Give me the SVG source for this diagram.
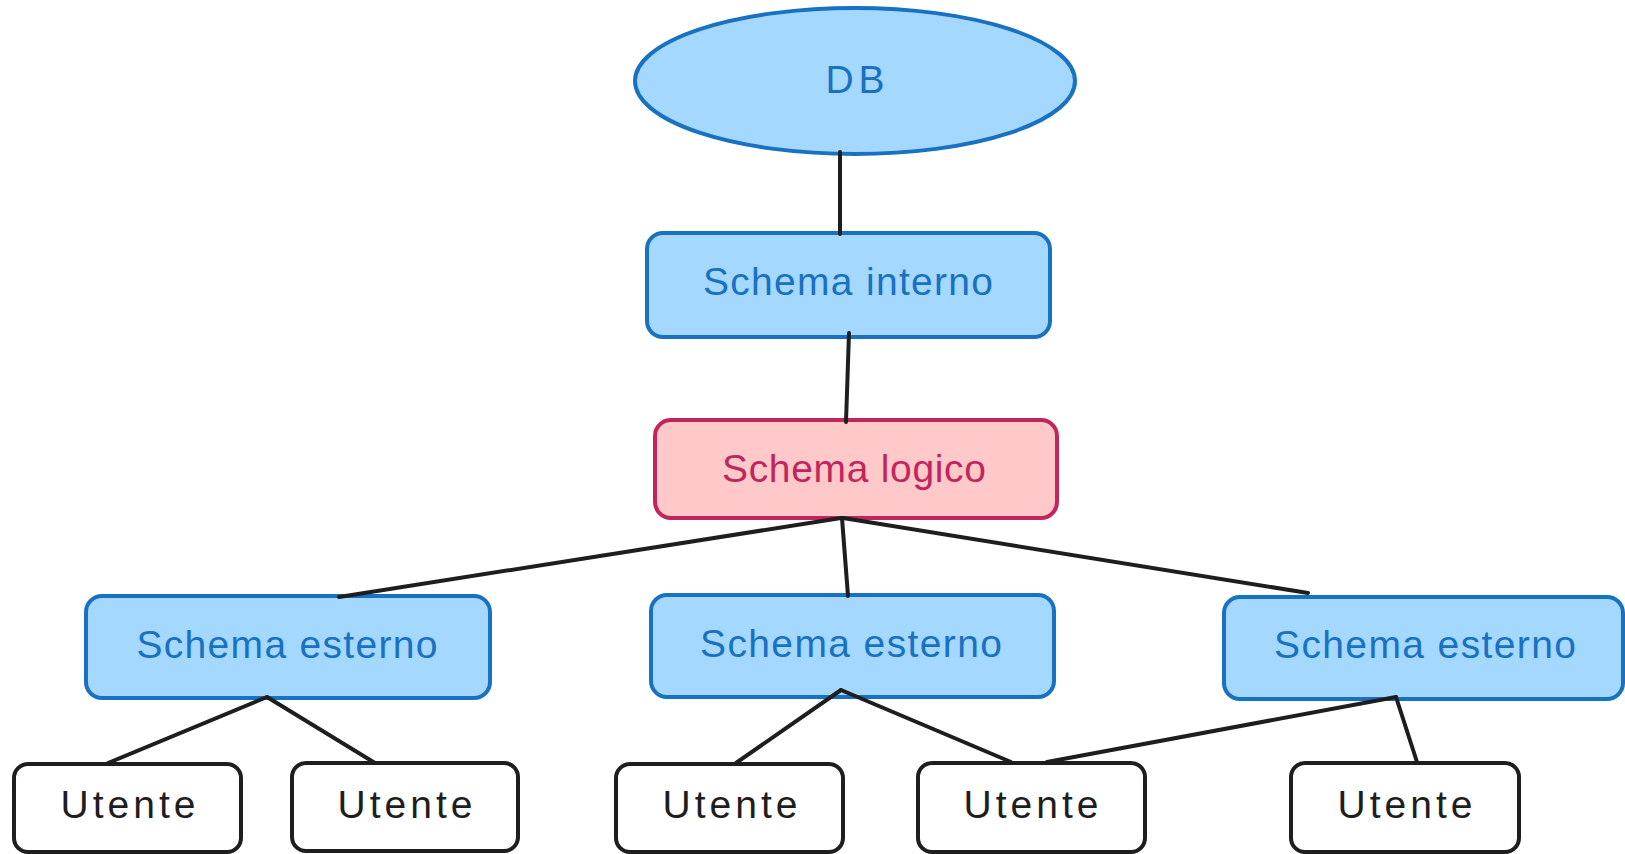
<svg xmlns="http://www.w3.org/2000/svg" width="1625" height="854" viewBox="0 0 1625 854">
  <style>
    .blue { fill: #a5d8ff; stroke: #1971c2; stroke-width: 4; stroke-linejoin: round; }
    .red { fill: #ffc9c9; stroke: #c2255c; stroke-width: 4; stroke-linejoin: round; }
    .user { fill: #ffffff; stroke: #1e1e1e; stroke-width: 4; stroke-linejoin: round; }
    .lbl { font-family: "Liberation Sans", Arial, sans-serif; font-size: 39px; text-anchor: middle; }
    .tb { fill: #1971c2; }
    .tr { fill: #c2255c; }
    .tk { fill: #1e1e1e; }
    .edge { stroke: #1e1e1e; stroke-width: 4; stroke-linecap: round; fill: none; }
  </style>

  <!-- database -->
  <g id="db">
    <ellipse class="blue" cx="855" cy="81" rx="220" ry="73"/>
    <text class="lbl tb" x="855" y="93" textLength="59">DB</text>
  </g>

  <g id="schema-interno">
    <rect class="blue" x="647" y="233" width="403" height="104" rx="16"/>
    <text class="lbl tb" x="848" y="295" textLength="290">Schema interno</text>
  </g>

  <g id="schema-logico">
    <rect class="red" x="655" y="420" width="402" height="98" rx="16"/>
    <text class="lbl tr" x="854" y="482" textLength="264">Schema logico</text>
  </g>

  <g id="schema-esterno-1">
    <rect class="blue" x="86" y="596" width="404" height="102" rx="16"/>
    <text class="lbl tb" x="287" y="658" textLength="301">Schema esterno</text>
  </g>

  <g id="schema-esterno-2">
    <rect class="blue" x="651" y="595" width="403" height="102" rx="16"/>
    <text class="lbl tb" x="851" y="657" textLength="302">Schema esterno</text>
  </g>

  <g id="schema-esterno-3">
    <rect class="blue" x="1224" y="597" width="399" height="102" rx="16"/>
    <text class="lbl tb" x="1425" y="658" textLength="302">Schema esterno</text>
  </g>

  <g id="utente-1">
    <rect class="user" x="14" y="764" width="227" height="88" rx="14"/>
    <text class="lbl tk" x="128" y="818" textLength="135">Utente</text>
  </g>

  <g id="utente-2">
    <rect class="user" x="292" y="763" width="226" height="88" rx="14"/>
    <text class="lbl tk" x="405" y="818" textLength="135">Utente</text>
  </g>

  <g id="utente-3">
    <rect class="user" x="616" y="764" width="227" height="88" rx="14"/>
    <text class="lbl tk" x="730" y="818" textLength="135">Utente</text>
  </g>

  <g id="utente-4">
    <rect class="user" x="918" y="763" width="227" height="89" rx="14"/>
    <text class="lbl tk" x="1031" y="818" textLength="135">Utente</text>
  </g>

  <g id="utente-5">
    <rect class="user" x="1291" y="763" width="228" height="89" rx="14"/>
    <text class="lbl tk" x="1405" y="818" textLength="135">Utente</text>
  </g>

  <!-- connectors, drawn over the node outlines -->
  <g id="connectors">
    <line class="edge" x1="840" y1="152" x2="840" y2="234"/>
    <line class="edge" x1="849" y1="333" x2="846" y2="422"/>
    <line class="edge" x1="841" y1="518" x2="339" y2="597" stroke-width="5"/>
    <line class="edge" x1="842" y1="518" x2="848" y2="596"/>
    <line class="edge" x1="843" y1="518" x2="1308" y2="593"/>
    <line class="edge" x1="267" y1="697" x2="108" y2="763" stroke-width="5"/>
    <line class="edge" x1="267" y1="697" x2="375" y2="763"/>
    <line class="edge" x1="841" y1="690" x2="736" y2="763"/>
    <line class="edge" x1="841" y1="690" x2="1011" y2="762"/>
    <line class="edge" x1="1396" y1="697" x2="1047" y2="762"/>
    <line class="edge" x1="1396" y1="697" x2="1417" y2="762"/>
  </g>
</svg>
